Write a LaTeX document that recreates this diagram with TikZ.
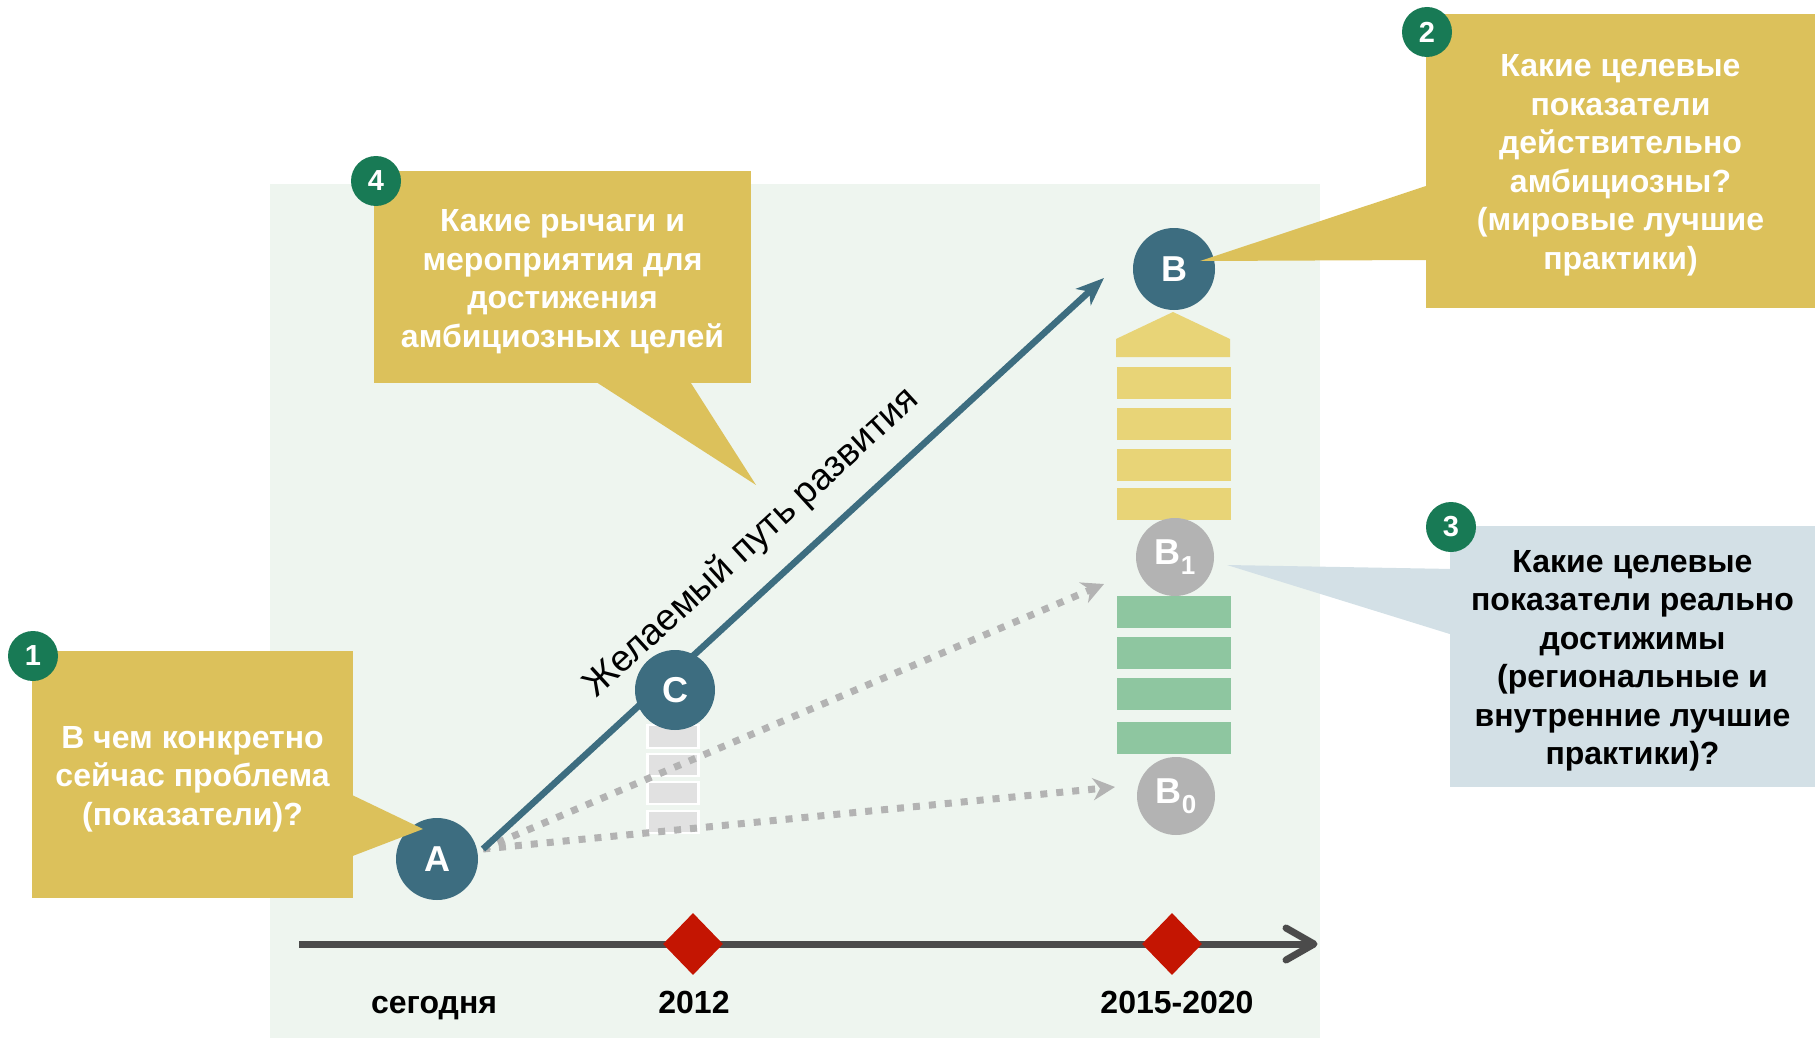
\documentclass[tikz,border=0pt]{standalone}
\usepackage{fontspec}
\setmainfont{Liberation Sans}
\usetikzlibrary{arrows.meta,shapes.geometric}
\definecolor{bgc}{HTML}{EEF5EF}
\definecolor{gold}{HTML}{DCC15B}
\definecolor{yelbar}{HTML}{E8D477}
\definecolor{grnbar}{HTML}{8EC6A0}
\definecolor{bluec}{HTML}{3D6D80}
\definecolor{grayc}{HTML}{B3B3B3}
\definecolor{numg}{HTML}{187A55}
\definecolor{boxb}{HTML}{D3E0E6}
\definecolor{redd}{HTML}{C41502}
\definecolor{tlc}{HTML}{4B4B4B}
\definecolor{lgr}{HTML}{E1E1E1}
\begin{document}
\begin{tikzpicture}[x=1pt,y=-1pt,
  callbox/.style={fill=gold, inner sep=0pt},
  calltext/.style={inner sep=0pt, align=center, text=white, yshift=-4.5pt,
    font=\fontsize{32}{38.5}\selectfont\bfseries},
  numc/.style={circle, fill=numg, minimum size=50pt, inner sep=0pt, text=white,
    font=\fontsize{29}{29}\selectfont\bfseries},
  ptc/.style={circle, fill=bluec, minimum size=82pt, inner sep=0pt, text=white,
    font=\fontsize{36}{36}\selectfont\bfseries},
  gptc/.style={circle, fill=grayc, minimum size=78pt, inner sep=0pt, text=white,
    font=\fontsize{36}{36}\selectfont\bfseries},
  dotl/.style={grayc, line width=7pt, dash pattern=on 7pt off 9pt,
    -{Stealth[length=22pt,width=22pt,inset=7pt]}},
  yearlbl/.style={font=\fontsize{32}{32}\selectfont\bfseries, text=black, inner sep=0pt},
  redmark/.style={diamond, fill=redd, minimum width=60pt, minimum height=62pt, inner sep=0pt}
]
\useasboundingbox (0,0) rectangle (1818,1038);
% background panel
\fill[bgc] (270,184) rectangle (1320,1038);

% small grey bars under C
\foreach \ya/\yb in {725/748,754/776,782/804,811/833}
  \filldraw[fill=lgr, draw=white, line width=2.5pt] (647.5,\ya) rectangle (698.6,\yb);

% yellow column
\fill[yelbar] (1116,357) -- (1116,339) -- (1173,312) -- (1230,339) -- (1230,357) -- cycle;
\foreach \ya/\yb in {367/399,408/440,449/481,488/520}
  \fill[yelbar] (1117,\ya) rectangle (1231,\yb);
% green column
\foreach \ya/\yb in {596/628,637/669,678/710,722/754}
  \fill[grnbar] (1117,\ya) rectangle (1231,\yb);

% arrows from A
\coordinate (s) at (483,849);
\coordinate (t1) at (1104,584);
\coordinate (t2) at (1115,787);
\coordinate (bt) at (1104,278);
\draw[dotl] (s) -- (t1);
\draw[dotl] (s) -- (t2);
\draw[bluec, line width=6.5pt, -{Stealth[length=28pt,width=22pt,inset=8pt]}] (s) -- (bt);
\node[rotate=42.5, font=\fontsize{37}{37}\selectfont, inner sep=0pt] (lab) at (752,543) {Желаемый путь развития};

% points
\node[ptc] (A) at (437,859) {A};
\node[ptc, minimum size=80pt] (C) at (675,690) {C};
\node[ptc] (B) at (1174,269) {B};
\node[gptc] (B1) at (1175,557) {B\raisebox{-0.28em}{\fontsize{26}{26}\selectfont 1}};
\node[gptc] (B0) at (1176,796) {B\raisebox{-0.28em}{\fontsize{26}{26}\selectfont 0}};

% callout 1
\fill[gold] (350,794) -- (423,829) -- (350,857) -- cycle;
\node[callbox, minimum width=321pt, minimum height=247pt] (q1) at (192.5,774.5) {};
\node[calltext] (q1t) at (q1) {В чем конкретно\\сейчас проблема\\(показатели)?};
% callout 4
\fill[gold] (593,380) -- (756,485) -- (689,380) -- cycle;
\node[callbox, minimum width=377pt, minimum height=212pt] (q4) at (562.5,277) {};
\node[calltext] (q4t) at (q4) {Какие рычаги и\\мероприятия для\\достижения\\амбициозных целей};
% callout 2
\fill[gold] (1429,185) -- (1200,261) -- (1429,260) -- cycle;
\node[callbox, minimum width=389pt, minimum height=294pt] (q2) at (1620.5,161) {};
\node[calltext] (q2t) at (q2) {Какие целевые\\показатели\\действительно\\амбициозны?\\(мировые лучшие\\практики)};
% callout 3
\fill[boxb] (1453,569) -- (1227,565) -- (1453,635) -- cycle;
\node[callbox, fill=boxb, minimum width=365pt, minimum height=261pt] (q3) at (1632.5,656.5) {};
\node[calltext, text=black] (q3t) at (q3) {Какие целевые\\показатели реально\\достижимы\\(региональные и\\внутренние лучшие\\практики)?};

% number badges
\node[numc] (n1) at (33,656) {1};
\node[numc] (n4) at (376,181) {4};
\node[numc] (n2) at (1427,32) {2};
\node[numc] (n3) at (1451,527) {3};

% timeline
\coordinate (tl0) at (299,944);
\coordinate (tl1) at (1314,944);
\draw[tlc, line width=7pt] (tl0) -- (tl1);
\draw[tlc, line width=7pt, line cap=round, line join=round] (tl1) ++(-28,-16) -- (tl1) -- ++(-28,16);
\node[redmark] (d1) at (693,944) {};
\node[redmark] (d2) at (1172,944) {};
\node[yearlbl, anchor=base] (y0) at (434,1013) {сегодня};
\node[yearlbl, anchor=base] (y1) at (694,1013) {2012};
\node[yearlbl, anchor=base] (y2) at (1177,1013) {2015-2020};
\end{tikzpicture}
\end{document}
